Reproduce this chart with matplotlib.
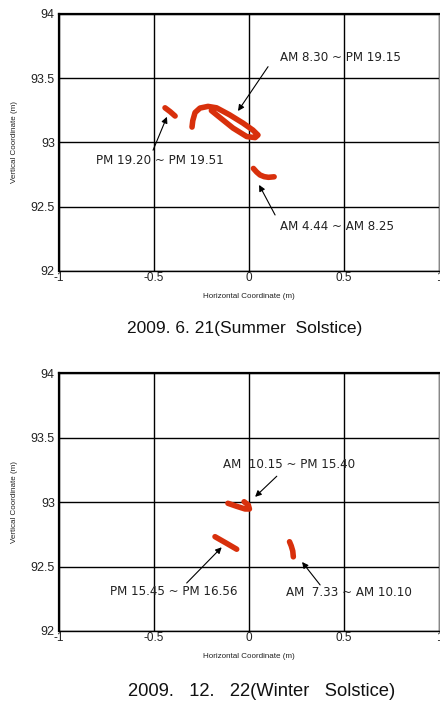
import matplotlib
matplotlib.use("Agg")
import matplotlib.pyplot as plt

# ---- data ----
# Summer solstice
summer_early_x = [0.023, 0.040, 0.058, 0.080, 0.102, 0.132]
summer_early_y = [92.798, 92.770, 92.747, 92.734, 92.729, 92.733]
summer_loop_x = [-0.300, -0.296, -0.284, -0.258, -0.216, -0.171, -0.103, -0.032, 0.020, 0.047, 0.032, -0.012, -0.084, -0.153, -0.198]
summer_loop_y = [93.120, 93.170, 93.233, 93.268, 93.281, 93.270, 93.216, 93.151, 93.097, 93.058, 93.038, 93.046, 93.112, 93.194, 93.248]
summer_late_x = [-0.442, -0.415, -0.389]
summer_late_y = [93.270, 93.240, 93.206]

# Winter solstice
winter_early_x = [0.213, 0.222, 0.230, 0.233]
winter_early_y = [92.692, 92.660, 92.620, 92.575]
winter_mid_x = [-0.111, -0.066, -0.021, 0.002, -0.004, -0.026]
winter_mid_y = [92.990, 92.967, 92.946, 92.946, 92.977, 93.002]
winter_late_x = [-0.179, -0.122, -0.065]
winter_late_y = [92.731, 92.683, 92.634]

xticks = [-1, -0.5, 0, 0.5, 1]
xticklabels = ["-1", "-0.5", "0", "0.5", "1"]
yticks = [92, 92.5, 93, 93.5, 94]
yticklabels = ["92", "92.5", "93", "93.5", "94"]

summer_notes = [
    ("AM 8.30 ~ PM 19.15", (0.163, 93.665), (0.10, 93.59), (-0.058, 93.245)),
    ("PM 19.20 ~ PM 19.51", (-0.805, 92.86), (-0.505, 92.94), (-0.432, 93.20)),
    ("AM 4.44 ~ AM 8.25", (0.163, 92.35), (0.137, 92.436), (0.053, 92.67)),
]
winter_notes = [
    ("AM  10.15 ~ PM 15.40", (-0.137, 93.29), (0.146, 93.20), (0.032, 93.04)),
    ("PM 15.45 ~ PM 16.56", (-0.732, 92.31), (-0.328, 92.372), (-0.144, 92.649)),
    ("AM  7.33 ~ AM 10.10", (0.195, 92.30), (0.374, 92.357), (0.279, 92.535)),
]

RED = "#d8300c"
FONT = ["Liberation Sans", "DejaVu Sans"]
NFONT = ["DejaVu Sans"]

fig = plt.figure(figsize=(4.40, 7.07), dpi=100)
ax1 = fig.add_axes([0.134, 0.6167, 0.864, 0.3635])
ax2 = fig.add_axes([0.134, 0.1075, 0.864, 0.3649])


def style(ax):
    ax.set_xlim(-1, 1)
    ax.set_ylim(92, 94)
    ax.set_xticks(xticks)
    ax.set_yticks(yticks)
    ax.set_xticklabels(xticklabels, fontsize=8.5, family=FONT, color="#222222")
    ax.set_yticklabels(yticklabels, fontsize=9, family=FONT, color="#222222")
    ax.tick_params(axis="y", length=0, pad=3)
    ax.tick_params(axis="x", length=0, pad=1)
    ax.grid(True, color="black", linewidth=1.0)
    ax.set_axisbelow(True)
    for s in ["left", "top"]:
        ax.spines[s].set_linewidth(1.6)
    ax.spines["bottom"].set_linewidth(1.0)
    ax.spines["right"].set_linewidth(0.8)
    ax.spines["right"].set_color("#888888")
    ax.set_xlabel("Horizontal Coordinate (m)", fontsize=5.8, family=FONT, labelpad=6,
                  color="#222222")
    ax.set_ylabel("Vertical Coordinate (m)", fontsize=5.8, family=FONT, labelpad=9,
                  color="#222222")


def notes(ax, items):
    for txt, tpos, a0, a1 in items:
        ax.text(tpos[0], tpos[1], txt, fontsize=8.6, family=NFONT, ha="left", va="center",
                color="#222222")
        ax.annotate("", xy=a1, xytext=a0,
                    arrowprops=dict(arrowstyle="-|>", color="black", lw=0.8,
                                    mutation_scale=9, shrinkA=0, shrinkB=0))


style(ax1)
style(ax2)

kw = dict(color=RED, linewidth=4.0, solid_capstyle="round", solid_joinstyle="round")
ax1.plot(summer_early_x, summer_early_y, **kw)
ax1.plot(summer_loop_x, summer_loop_y, **kw)
ax1.plot(summer_late_x, summer_late_y, **kw)
ax2.plot(winter_early_x, winter_early_y, **kw)
ax2.plot(winter_mid_x, winter_mid_y, **kw)
ax2.plot(winter_late_x, winter_late_y, **kw)

notes(ax1, summer_notes)
notes(ax2, winter_notes)

TFONT = ["Liberation Sans", "DejaVu Sans"]
fig.text(0.556, 1 - 329 / 707, "2009. 6. 21(Summer  Solstice)", fontsize=12.5, family=TFONT,
         ha="center", va="center", color="#111111")
fig.text(0.595, 1 - 692 / 707, "2009.   12.   22(Winter   Solstice)", fontsize=13.2,
         family=TFONT, ha="center", va="center", color="#111111")

fig.savefig("out.png", dpi=100)
